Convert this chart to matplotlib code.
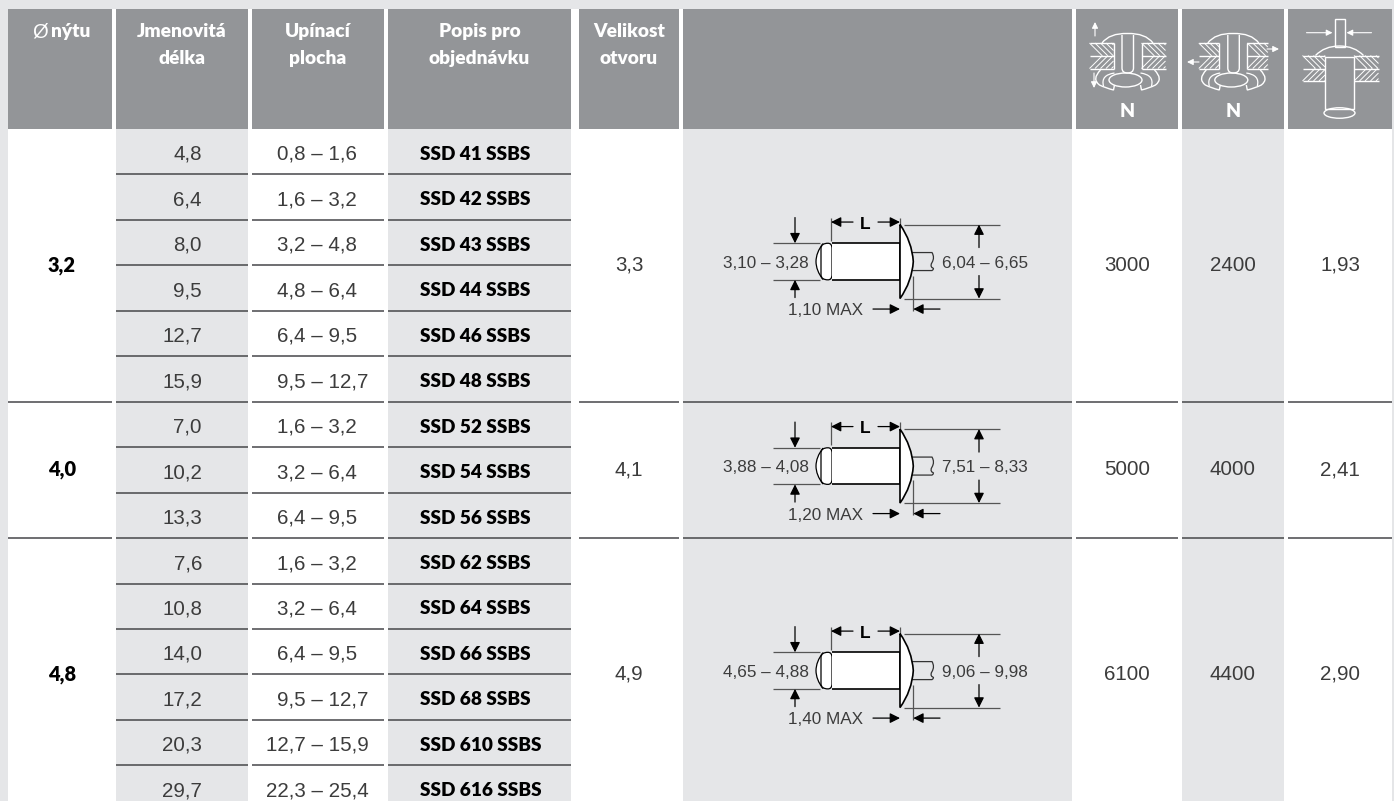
import matplotlib
matplotlib.use("Agg")
import matplotlib.pyplot as plt
from matplotlib.patches import Rectangle, PathPatch, Ellipse
from matplotlib.path import Path

# ---- DATA ----
HEADERS = ["Jmenovitá\ndélka", "Upínací\nplocha", "Popis pro\nobjednávku", "Velikost\notvoru"]
DIAMETERS = ["3,2", "4,0", "4,8"]
GROUP_ROWS = [6, 3, 6]
LENGTHS = ["4,8", "6,4", "8,0", "9,5", "12,7", "15,9", "7,0", "10,2", "13,3",
           "7,6", "10,8", "14,0", "17,2", "20,3", "29,7"]
GRIPS = ["0,8 – 1,6", "1,6 – 3,2", "3,2 – 4,8", "4,8 – 6,4", "6,4 – 9,5", "9,5 – 12,7",
         "1,6 – 3,2", "3,2 – 6,4", "6,4 – 9,5",
         "1,6 – 3,2", "3,2 – 6,4", "6,4 – 9,5", "9,5 – 12,7", "12,7 – 15,9", "22,3 – 25,4"]
ORDER_CODES = ["SSD 41 SSBS", "SSD 42 SSBS", "SSD 43 SSBS", "SSD 44 SSBS", "SSD 46 SSBS", "SSD 48 SSBS",
               "SSD 52 SSBS", "SSD 54 SSBS", "SSD 56 SSBS",
               "SSD 62 SSBS", "SSD 64 SSBS", "SSD 66 SSBS", "SSD 68 SSBS", "SSD 610 SSBS", "SSD 616 SSBS"]
HOLE_SIZES = ["3,3", "4,1", "4,9"]
SHEAR = ["3000", "5000", "6100"]
TENSILE = ["2400", "4000", "4400"]
MANDREL = ["1,93", "2,41", "2,90"]
DIA_LABELS = ["3,10 – 3,28", "3,88 – 4,08", "4,65 – 4,88"]
HEAD_LABELS = ["6,04 – 6,65", "7,51 – 8,33", "9,06 – 9,98"]
MAX_LABELS = ["1,10 MAX", "1,20 MAX", "1,40 MAX"]

# ---- STYLE ----
GREY = "#e5e6e8"
HEAD = "#939598"
LINE = "#46474a"
TXT = "#3c3c3c"
BOLD = "Lato"
REG = "Liberation Sans"
COLS = [(8, 112), (116, 248), (252, 384), (388, 571), (579, 679),
        (683, 1072), (1076, 1178), (1182, 1284), (1288, 1392)]
TOP, HEAD_BOTTOM, ROW_H = 8.5, 129, 45.45

fig = plt.figure(figsize=(13.94, 8.01), dpi=100, facecolor="white")
ax = fig.add_axes([0, 0, 1, 1])
ax.set_xlim(0, 1394)
ax.set_ylim(801, 0)
ax.axis("off")


def rect(x0, y0, x1, y1, color, z=1):
    ax.add_patch(Rectangle((x0, y0), x1 - x0, y1 - y0, fc=color, ec="none", zorder=z))


def hline(x0, x1, y, lw=1.1, color=LINE, z=3):
    ax.plot([x0, x1], [y, y], color=color, lw=lw, solid_capstyle="butt", zorder=z)


def seg(x0, y0, x1, y1, color="#555555", lw=0.9, z=4):
    ax.plot([x0, x1], [y0, y1], color=color, lw=lw, solid_capstyle="butt", zorder=z)


def arrow(x0, y0, x1, y1, color="black", scale=10, lw=0.9, z=6):
    ax.annotate("", xy=(x1, y1), xytext=(x0, y0), zorder=z,
                arrowprops=dict(arrowstyle="-|>,head_length=0.6,head_width=0.3", color=color,
                                mutation_scale=scale, lw=lw, shrinkA=0, shrinkB=0))


def curve(verts, codes, fc="none", ec="white", lw=1.0, z=5):
    ax.add_patch(PathPatch(Path(verts, codes), fc=fc, ec=ec, lw=lw, zorder=z))


M, L, C = Path.MOVETO, Path.LINETO, Path.CURVE3


def draw_rivet(cx, cy, dia, head, mx):
    # blind end: bulge, then rounded collar, then body
    curve([(cx - 77, cy - 18), (cx - 84, cy - 9), (cx - 84, cy), (cx - 84, cy + 9), (cx - 77, cy + 18)],
          [M, C, C, C, C], fc="white", ec="black", lw=0.9, z=5)
    curve([(cx - 72, cy - 18.3), (cx - 79, cy - 18.3), (cx - 79, cy - 13), (cx - 79, cy + 13),
           (cx - 79, cy + 18.3), (cx - 72, cy + 18.3), (cx - 68, cy + 18.3), (cx - 68, cy + 13),
           (cx - 68, cy - 13), (cx - 68, cy - 18.3), (cx - 72, cy - 18.3)],
          [M, C, C, L, C, C, C, C, L, C, C], fc="white", ec="black", lw=0.9, z=5)
    curve([(cx - 68.5, cy - 18.3), (cx, cy - 18.3), (cx, cy + 18.3), (cx - 68.5, cy + 18.3)],
          [M, L, L, L], fc="white", ec="black", lw=1.2, z=5)
    # mandrel
    curve([(cx + 12, cy - 9), (cx + 32, cy - 9), (cx + 35, cy - 4), (cx + 32, cy + 1), (cx + 30, cy + 4),
           (cx + 32, cy + 6), (cx + 35, cy + 7), (cx + 32, cy + 9), (cx + 12, cy + 9)],
          [M, L, C, C, C, C, C, C, L], fc="none", ec="#333333", lw=0.9, z=4)
    # flange
    curve([(cx, cy - 37), (cx + 12, cy - 20), (cx + 13.3, cy), (cx + 12, cy + 20), (cx, cy + 37), (cx, cy - 37)],
          [M, C, C, C, C, L], fc="white", ec="black", lw=1.2, z=5)
    # L dimension
    seg(cx - 69, cy - 44, cx - 69, cy - 21)
    seg(cx, cy - 44, cx, cy - 37)
    arrow(cx - 47, cy - 39.5, cx - 69, cy - 39.5)
    arrow(cx - 22, cy - 39.5, cx, cy - 39.5)
    ax.text(cx - 34.5, cy - 33, "L", fontsize=12.5, family=REG, weight="bold", color="black",
            ha="center", va="baseline", zorder=6)
    # body diameter
    seg(cx - 127, cy - 18.3, cx - 80, cy - 18.3)
    seg(cx - 127, cy + 18.3, cx - 80, cy + 18.3)
    arrow(cx - 105, cy - 44, cx - 105, cy - 18.3)
    arrow(cx - 105, cy + 36, cx - 105, cy + 18.3)
    ax.text(cx - 134, cy + 6, dia, fontsize=12.3, family=REG, color=TXT, ha="center", va="baseline", zorder=6)
    # flange diameter
    seg(cx + 4, cy - 37, cx + 100, cy - 37)
    seg(cx + 4, cy + 37, cx + 100, cy + 37)
    arrow(cx + 79, cy - 14, cx + 79, cy - 37)
    arrow(cx + 79, cy + 14, cx + 79, cy + 37)
    ax.text(cx + 85, cy + 6, head, fontsize=12.3, family=REG, color=TXT, ha="center", va="baseline", zorder=6)
    # flange thickness
    seg(cx + 13.3, cy + 14, cx + 13.3, cy + 49)
    arrow(cx - 27, cy + 47.5, cx, cy + 47.5)
    arrow(cx + 40, cy + 47.5, cx + 13.3, cy + 47.5)
    ax.text(cx - 75, cy + 53.5, mx, fontsize=12.3, family=REG, color=TXT, ha="center", va="baseline", zorder=6)


def plate(x0, x1, y0, y1, direction):
    # hatching clipped by hand to the plate's box
    step = 5.5
    xs = x0
    h = y1 - y0
    while xs < x1:
        a0, a1 = xs, min(xs + h, x1)
        b1 = y0 + (a1 - a0)
        if direction > 0:
            seg(a0, y0, a1, b1, color="white", lw=0.7)
        else:
            seg(a0, y1, a1, y1 - (a1 - a0), color="white", lw=0.7)
        xs += step


def draw_joint(cx, outer):
    for sx in (-1, 1):
        x0, x1 = sorted((cx + sx * 14, cx + sx * outer))
        plate(x0, x1, 43, 55.5, 1)
        plate(x0, x1, 55.5, 68.5, -1)
        for y in (43, 55.5, 68.5):
            seg(x0, y, x1, y, color="white", lw=1.0)
        seg(cx + sx * 14, 43, cx + sx * 14, 68.5, color="white", lw=1.0)
    # domed head and mandrel
    curve([(cx - 25.5, 43), (cx - 18, 33), (cx, 33.5), (cx + 18, 33), (cx + 25.5, 43)],
          [M, C, C, C, C], lw=1.0)
    curve([(cx - 5.5, 35), (cx - 5.5, 68), (cx - 5.5, 73), (cx, 73), (cx + 6, 73), (cx + 6, 68), (cx + 6, 35)],
          [M, L, C, C, C, C, L], lw=1.0)
    # blind side flare
    ax.add_patch(Ellipse((cx - 2, 80), 33, 14, fc="none", ec="white", lw=1.0, zorder=5))
    for sx in (-1, 1):
        curve([(cx + sx * 27, 70), (cx + sx * 36, 79), (cx + sx * 28, 85), (cx + sx * 22, 88), (cx + sx * 14, 90),
               (cx + sx * 13, 85)], [M, C, C, C, C, L], lw=1.0)
        curve([(cx + sx * 13, 73), (cx + sx * 27, 75), (cx + sx * 24, 86)], [M, C, C], lw=0.9)
    ax.text(cx, 117, "N", fontsize=14, family=BOLD, weight=800, color="white", ha="center", va="baseline", zorder=6)


def draw_mandrel_icon(cx):
    for x0, x1 in ((cx - 37, cx - 14.5), (cx + 14.5, cx + 39)):
        plate(x0, x1, 55.5, 68.5, 1)
        plate(x0, x1, 68.5, 81, -1)
        for y in (55.5, 68.5, 81):
            seg(x0, y, x1, y, color="white", lw=1.0)
    # mandrel stub and head
    ax.add_patch(Rectangle((cx - 5, 18.5), 10.5, 28, fc="none", ec="white", lw=1.0, zorder=5))
    curve([(cx - 24, 55.5), (cx - 15, 46), (cx, 46), (cx + 15, 46), (cx + 24, 55.5)], [M, C, C, C, C], lw=1.0)
    # rivet body and rounded end
    ax.add_patch(Rectangle((cx - 14.5, 56.5), 29, 52, fc=HEAD, ec="white", lw=1.0, zorder=5))
    ax.add_patch(Ellipse((cx, 113), 31, 10.5, fc="none", ec="white", lw=1.0, zorder=5))
    arrow(cx - 33, 32.7, cx - 7, 32.7, color="white", scale=6, lw=0.8)
    arrow(cx + 32, 32.7, cx + 7, 32.7, color="white", scale=6, lw=0.8)


# ---- FRAME AND COLUMNS ----
rect(0, 0, 1394, TOP, GREY)
rect(0, 0, COLS[0][0], 801, GREY)
rect(COLS[-1][1], 0, 1394, 801, GREY)
for x0, x1 in COLS:
    rect(x0, TOP, x1, HEAD_BOTTOM, HEAD)
for i in (1, 3, 5, 7):
    rect(COLS[i][0], HEAD_BOTTOM, COLS[i][1], 801, GREY)

# ---- HEADER TEXT ----
ax.text(40.5, 37, "Ø", fontsize=14.5, family=REG, color="white", ha="center", va="baseline", zorder=6)
ax.text(70.5, 37, "nýtu", fontsize=13.8, family=BOLD, weight=800, color="white", ha="center", va="baseline", zorder=6)
for i, label in enumerate(HEADERS):
    x0, x1 = COLS[i + 1]
    for j, part in enumerate(label.split("\n")):
        ax.text((x0 + x1) / 2, 37 + j * 27, part, fontsize=13.8, family=BOLD, weight=800,
                color="white", ha="center", va="baseline", zorder=6)

draw_joint(1127.5, 38)
arrow(1095, 36, 1095, 22, color="white", scale=6, lw=0.8)
arrow(1094, 73, 1094, 88, color="white", scale=6, lw=0.8)
draw_joint(1233.3, 34.5)
arrow(1267, 49, 1279, 49, color="white", scale=6, lw=0.8)
arrow(1199, 62, 1187, 62, color="white", scale=6, lw=0.8)
draw_mandrel_icon(1339.5)

# ---- ROWS ----
for k in range(len(LENGTHS)):
    top = HEAD_BOTTOM + k * ROW_H
    base = top + 31
    ax.text(202, base, LENGTHS[k], fontsize=14.8, family=REG, color=TXT, ha="right", va="baseline", zorder=6)
    grip_x = 266 if len(GRIPS[k].split(",")[0]) > 1 else 277
    ax.text(grip_x, base, GRIPS[k], fontsize=14.8, family=REG, color=TXT, ha="left", va="baseline", zorder=6)
    ax.text(420, base, ORDER_CODES[k], fontsize=13.7, family=BOLD, weight=800, color="black",
            ha="left", va="baseline", zorder=6)
    if k > 0:
        for i in (1, 2, 3):
            hline(COLS[i][0], COLS[i][1], top)

# ---- MERGED GROUPS ----
start = 0
for g, n in enumerate(GROUP_ROWS):
    cy = HEAD_BOTTOM + (start + n / 2) * ROW_H
    ax.text(62, cy, DIAMETERS[g], fontsize=14.4, family=BOLD, weight=800, color="black",
            ha="center", va="center", zorder=6)
    for i, vals in ((4, HOLE_SIZES), (6, SHEAR), (7, TENSILE), (8, MANDREL)):
        ax.text((COLS[i][0] + COLS[i][1]) / 2, cy, vals[g], fontsize=14.8, family=REG, color=TXT,
                ha="center", va="center", zorder=6)
    draw_rivet(900, cy - 3.8, DIA_LABELS[g], HEAD_LABELS[g], MAX_LABELS[g])
    start += n
    if start < len(LENGTHS):
        y = HEAD_BOTTOM + start * ROW_H
        for i in (0, 4, 5, 6, 7, 8):
            hline(COLS[i][0], COLS[i][1], y)

fig.savefig("out.png", dpi=100)
